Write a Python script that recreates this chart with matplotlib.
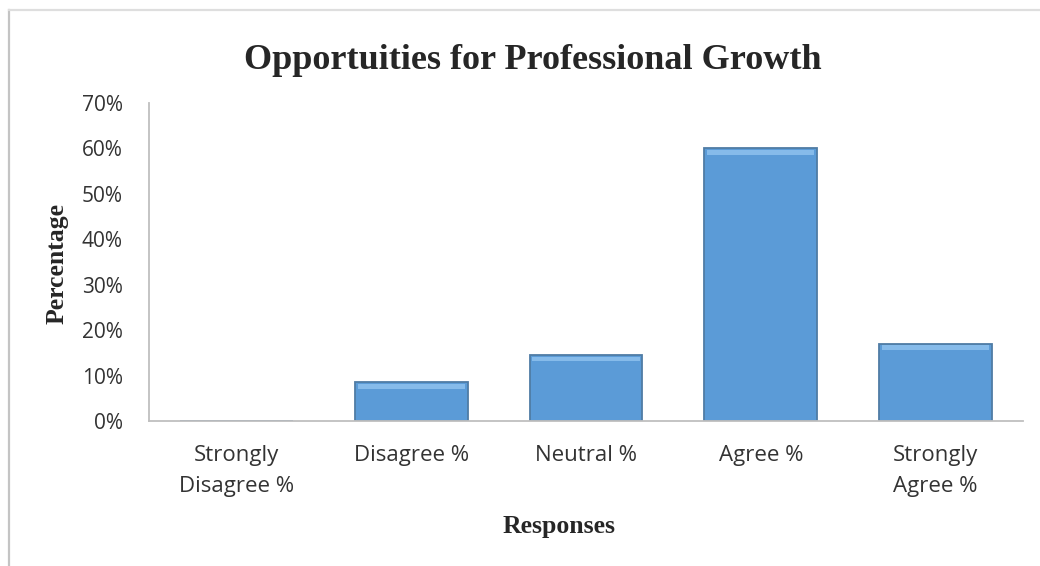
import matplotlib
matplotlib.use("Agg")
import matplotlib.pyplot as plt
from matplotlib.lines import Line2D
from matplotlib.ticker import PercentFormatter

categories = ["Strongly\nDisagree %", "Disagree %", "Neutral %", "Agree %", "Strongly\nAgree %"]
percentages = [0.0, 8.5, 14.5, 60.0, 17.0]
y_ticks = [0, 10, 20, 30, 40, 50, 60, 70]

fig = plt.figure(figsize=(10.4, 5.66), dpi=100)
ax = fig.add_axes([0.1433, 0.2562, 0.8404, 0.5618])

x = range(len(categories))
bar_width = 0.645
ax.bar(x, percentages, width=bar_width, color="#5b9bd7", edgecolor="#4f7ca5", linewidth=1.3, zorder=2)

# soft highlight along the top of each bar
for xi, val in zip(x, percentages):
    if val <= 0:
        continue
    hl = min(1.0, val * 0.2)
    ax.bar(xi, hl, bottom=val - hl - 0.35, width=bar_width * 0.95, color="#86bbea", linewidth=0, zorder=3)

ax.set_xlim(-0.5, len(categories) - 0.5)
ax.set_ylim(0, 70)
ax.set_yticks(y_ticks)
ax.yaxis.set_major_formatter(PercentFormatter(decimals=0))
ax.set_xticks(list(x))
ax.set_xticklabels(categories, fontsize=16, family="Open Sans", color="#333333", linespacing=1.65)
for lab in ax.get_yticklabels():
    lab.set_fontsize(15)
    lab.set_family("Open Sans")
    lab.set_color("#333333")
ax.tick_params(axis="x", length=0, pad=17)
ax.tick_params(axis="y", length=0, pad=19)

for side in ["top", "right"]:
    ax.spines[side].set_visible(False)
for side in ["left", "bottom"]:
    ax.spines[side].set_color("#bfbfbf")
    ax.spines[side].set_linewidth(1.3)

fig.text(0.512, 0.878, "Opportuities for Professional Growth", ha="center", va="baseline",
         fontsize=26, fontweight="bold", family="Liberation Serif", color="#262626")
fig.text(0.055, 0.535, "Percentage", ha="center", va="center", rotation=90,
         fontsize=18.5, fontweight="bold", family="Liberation Serif", color="#262626")
fig.text(0.538, 0.070, "Responses", ha="center", va="center",
         fontsize=18.5, fontweight="bold", family="Liberation Serif", color="#262626")

# chart frame edges on the left and top
fig.lines.append(Line2D([0.0085, 0.0085], [0.0, 0.983], transform=fig.transFigure,
                        color="#c4c4c4", linewidth=1.6))
fig.lines.append(Line2D([0.0085, 1.0], [0.983, 0.983], transform=fig.transFigure,
                        color="#dedede", linewidth=1.6))

fig.savefig("out.png", dpi=100, facecolor="white")
